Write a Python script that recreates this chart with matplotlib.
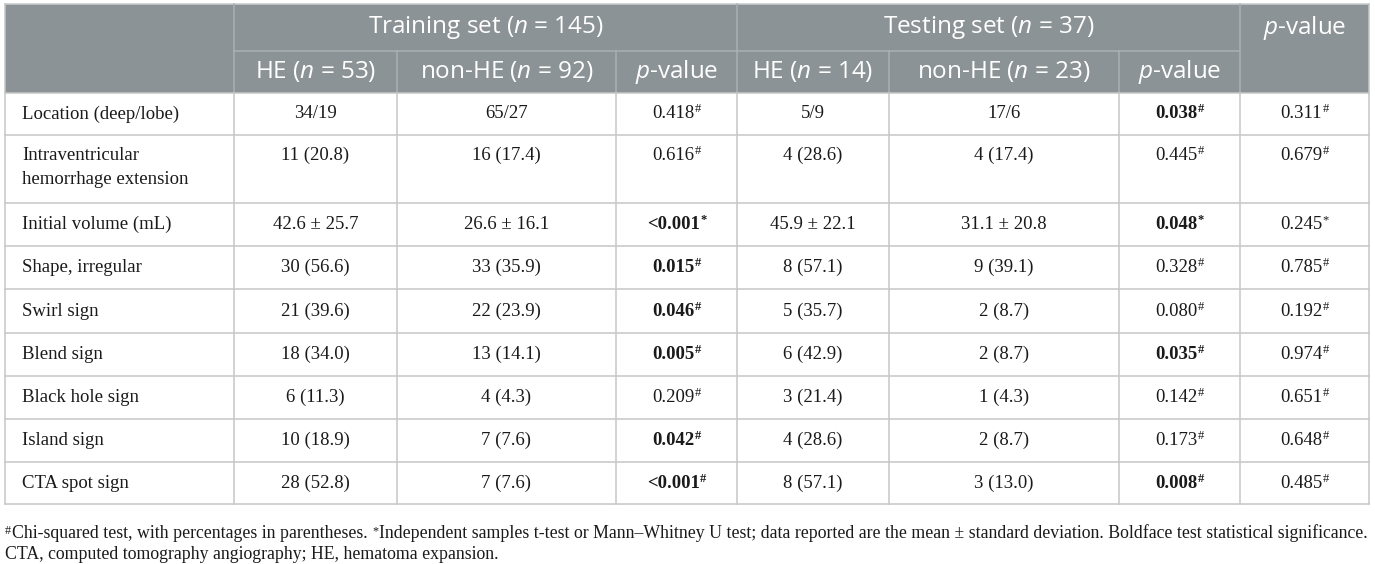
import matplotlib
matplotlib.use("Agg")
import matplotlib.pyplot as plt
from matplotlib.patches import Rectangle

# ---------------- data ----------------
train_n, test_n = 145, 37
train_he_n, train_non_n = 53, 92
test_he_n, test_non_n = 14, 23

labels = ["Location (deep/lobe)", "Intraventricular\nhemorrhage extension",
          "Initial volume (mL)", "Shape, irregular", "Swirl sign", "Blend sign",
          "Black hole sign", "Island sign", "CTA spot sign"]
train_he = ["34/19", "11 (20.8)", "42.6 \u00b1 25.7", "30 (56.6)", "21 (39.6)",
            "18 (34.0)", "6 (11.3)", "10 (18.9)", "28 (52.8)"]
train_non = ["65/27", "16 (17.4)", "26.6 \u00b1 16.1", "33 (35.9)", "22 (23.9)",
             "13 (14.1)", "4 (4.3)", "7 (7.6)", "7 (7.6)"]
train_p = ["0.418", "0.616", "<0.001", "0.015", "0.046", "0.005", "0.209", "0.042", "<0.001"]
train_p_bold = [False, False, True, True, True, True, False, True, True]
test_he = ["5/9", "4 (28.6)", "45.9 \u00b1 22.1", "8 (57.1)", "5 (35.7)",
           "6 (42.9)", "3 (21.4)", "4 (28.6)", "8 (57.1)"]
test_non = ["17/6", "4 (17.4)", "31.1 \u00b1 20.8", "9 (39.1)", "2 (8.7)",
            "2 (8.7)", "1 (4.3)", "2 (8.7)", "3 (13.0)"]
test_p = ["0.038", "0.445", "0.048", "0.328", "0.080", "0.035", "0.142", "0.173", "0.008"]
test_p_bold = [True, False, True, False, False, True, False, False, True]
overall_p = ["0.311", "0.679", "0.245", "0.785", "0.192", "0.974", "0.651", "0.648", "0.485"]
p_marks = ["#", "#", "*", "#", "#", "#", "#", "#", "#"]

footnote1 = [("#", True), ("Chi-squared test, with percentages in parentheses. ", False),
             ("*", True), ("Independent samples t-test or Mann\u2013Whitney U test; data reported "
                           "are the mean \u00b1 standard deviation. Boldface test statistical significance.", False)]
footnote2 = [("CTA, computed tomography angiography; HE, hematoma expansion.", False)]

# ---------------- style ----------------
plt.rcParams["mathtext.fontset"] = "custom"
plt.rcParams["mathtext.rm"] = "Open Sans"
plt.rcParams["mathtext.it"] = "Open Sans:italic"
plt.rcParams["mathtext.bf"] = "Open Sans:bold"

SERIF = "Liberation Serif"
SANS = "Open Sans"
FS = 13.5
SUPFS = 9
HFS = 17.5
TC = "#1a1a1a"
HEAD_BG = "#8c9396"
HEAD_LINE = "#aab0b3"
GRID = "#c6c6c6"
LW = 1.1

W, H = 1375, 564
fig = plt.figure(figsize=(W / 100, H / 100), dpi=100)
ax = fig.add_axes([0, 0, 1, 1])
ax.set_xlim(0, W)
ax.set_ylim(H, 0)
ax.axis("off")
r = fig.canvas.get_renderer()

col_edges = [5, 234, 397, 616, 737, 889, 1119, 1240, 1369]
top, h1, h2 = 4, 51, 93
row_h = [42, 68, 43, 43, 44, 43, 43, 43, 42]
row_edges = [h2]
for hh in row_h:
    row_edges.append(row_edges[-1] + hh)

# header background
ax.add_patch(Rectangle((col_edges[0], top), col_edges[-1] - col_edges[0], h2 - top,
                       facecolor=HEAD_BG, edgecolor="none", zorder=0))
ax.plot([col_edges[0], col_edges[-1]], [top, top], color="#c8cccd", lw=LW, zorder=1)
# header lines
ax.plot([col_edges[1], col_edges[7]], [h1, h1], color=HEAD_LINE, lw=LW, zorder=1)
for xi in [1, 4, 7]:
    ax.plot([col_edges[xi]] * 2, [top, h2], color=HEAD_LINE, lw=LW, zorder=1)
for xi in [2, 3, 5, 6]:
    ax.plot([col_edges[xi]] * 2, [h1, h2], color=HEAD_LINE, lw=LW, zorder=1)

# body grid
for yy in row_edges:
    ax.plot([col_edges[0], col_edges[-1]], [yy, yy], color=GRID, lw=LW, zorder=1)
for xx in col_edges:
    ax.plot([xx, xx], [h2, row_edges[-1]], color=GRID, lw=LW, zorder=1)
for xx in [col_edges[0], col_edges[-1]]:
    ax.plot([xx, xx], [top, h2], color=GRID, lw=LW, zorder=1)


def mid(i):
    return (col_edges[i] + col_edges[i + 1]) / 2


# header texts
y1 = (top + h1) / 2
y2 = (h1 + h2) / 2
hkw = dict(family=SANS, fontsize=HFS, color="white", ha="center", va="center")
ax.text((col_edges[1] + col_edges[4]) / 2, y1, f"Training set ($n$ = {train_n})", **hkw)
ax.text((col_edges[4] + col_edges[7]) / 2, y1, f"Testing set ($n$ = {test_n})", **hkw)
ax.text(mid(7), y1, "$p$-value", **hkw)
ax.text(mid(1), y2, f"HE ($n$ = {train_he_n})", **hkw)
ax.text(mid(2), y2, f"non-HE ($n$ = {train_non_n})", **hkw)
ax.text(mid(3), y2, "$p$-value", **hkw)
ax.text(mid(4), y2, f"HE ($n$ = {test_he_n})", **hkw)
ax.text(mid(5), y2, f"non-HE ($n$ = {test_non_n})", **hkw)
ax.text(mid(6), y2, "$p$-value", **hkw)


def wid(t):
    return t.get_window_extent(renderer=r).width


def cell(xc, yc, main, sup=None, bold=False):
    t = ax.text(0, yc, main, family=SERIF, fontsize=FS, color=TC, ha="left", va="center",
                weight="bold" if bold else "normal")
    w1 = wid(t)
    w2 = 0
    s = None
    if sup:
        s = ax.text(0, yc - 1.5, sup, family=SERIF, fontsize=SUPFS, color=TC, ha="left",
                    va="baseline", weight="bold" if bold else "normal")
        w2 = wid(s) + 0.5
    x0 = xc - (w1 + w2) / 2
    t.set_x(x0)
    if s is not None:
        s.set_x(x0 + w1 + 0.5)


for i in range(len(labels)):
    rt, rb = row_edges[i], row_edges[i + 1]
    lines = labels[i].split("\n")
    if len(lines) > 1:
        yc = rt + 20
        for k, ln in enumerate(lines):
            ax.text(22, yc + 25 * k, ln, family=SERIF, fontsize=FS, color=TC,
                    ha="left", va="center")
    else:
        yc = (rt + rb) / 2
        ax.text(22, yc, lines[0], family=SERIF, fontsize=FS, color=TC, ha="left", va="center")
    cell(mid(1), yc, train_he[i])
    cell(mid(2), yc, train_non[i])
    cell(mid(3), yc, train_p[i], p_marks[i], train_p_bold[i])
    cell(mid(4), yc, test_he[i])
    cell(mid(5), yc, test_non[i])
    cell(mid(6), yc, test_p[i], p_marks[i], test_p_bold[i])
    cell(mid(7), yc, overall_p[i], p_marks[i], False)


def runs(x, y, items, fs):
    objs = []
    for txt, sup in items:
        if sup:
            t = ax.text(x, y - 4, txt, family=SERIF, fontsize=fs * 0.68, color=TC,
                        ha="left", va="baseline")
        else:
            t = ax.text(x, y, txt, family=SERIF, fontsize=fs, color=TC, ha="left", va="baseline")
        objs.append(t)
        x += wid(t) + (1 if sup else 0)
    return objs, x


# fit footnote line 1 to the table width
fs0 = 11
objs, xend = runs(5, 538, footnote1, fs0)
scale = (col_edges[-1] - 3 - 5) / (xend - 5)
for o in objs:
    o.remove()
fsn = fs0 * scale
runs(5, 538, footnote1, fsn)
runs(5, 559, footnote2, fsn)

fig.savefig("out.png", dpi=100)
